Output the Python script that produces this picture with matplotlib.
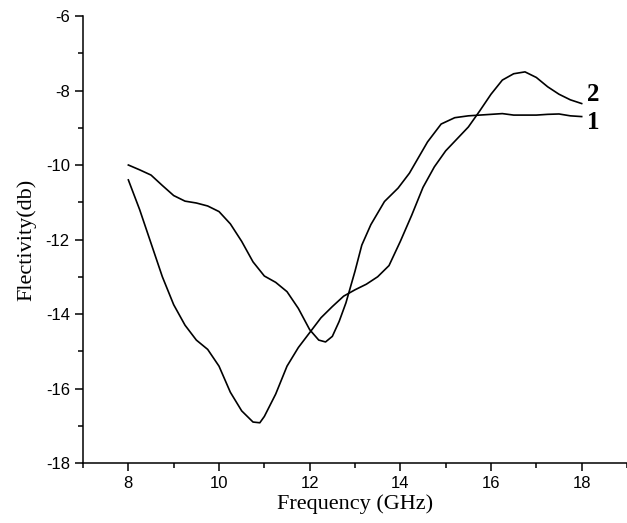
import matplotlib
matplotlib.use("Agg")
import matplotlib.pyplot as plt
from matplotlib.ticker import MultipleLocator

# curve 1 (shallow dip near 12.3 GHz, flat at the end)
freq1 = [8.0, 8.25, 8.5, 8.75, 9.0, 9.25, 9.5, 9.75, 10.0, 10.25, 10.5, 10.75,
         11.0, 11.25, 11.5, 11.75, 12.0, 12.2, 12.35, 12.5, 12.65, 12.8, 13.0,
         13.15, 13.35, 13.65, 13.95, 14.2, 14.4, 14.6, 14.9, 15.2, 15.5, 15.75,
         16.0, 16.25, 16.5, 16.75, 17.0, 17.25, 17.5, 17.75, 18.0]
refl1 = [-10.0, -10.13, -10.27, -10.55, -10.82, -10.97, -11.02, -11.1, -11.25,
         -11.58, -12.05, -12.6, -12.98, -13.15, -13.4, -13.85, -14.42, -14.7,
         -14.75, -14.6, -14.2, -13.7, -12.85, -12.15, -11.6, -10.98, -10.62,
         -10.22, -9.8, -9.38, -8.9, -8.73, -8.68, -8.66, -8.64, -8.62, -8.66,
         -8.66, -8.66, -8.64, -8.63, -8.68, -8.7]

# curve 2 (deep dip near 10.8 GHz, peak near 16.7 GHz)
freq2 = [8.0, 8.25, 8.5, 8.75, 9.0, 9.25, 9.5, 9.75, 10.0, 10.25, 10.5, 10.75,
         10.9, 11.0, 11.25, 11.5, 11.75, 12.0, 12.25, 12.5, 12.75, 13.0, 13.25,
         13.5, 13.75, 14.0, 14.25, 14.5, 14.75, 15.0, 15.25, 15.5, 15.75, 16.0,
         16.25, 16.5, 16.75, 17.0, 17.25, 17.5, 17.75, 18.0]
refl2 = [-10.4, -11.2, -12.1, -13.0, -13.75, -14.3, -14.7, -14.95, -15.4,
         -16.1, -16.6, -16.9, -16.92, -16.75, -16.15, -15.4, -14.9, -14.5,
         -14.1, -13.8, -13.52, -13.35, -13.2, -13.0, -12.7, -12.05, -11.35,
         -10.6, -10.05, -9.62, -9.3, -8.98, -8.55, -8.1, -7.72, -7.55, -7.5,
         -7.65, -7.9, -8.1, -8.25, -8.35]

xticks = [8, 10, 12, 14, 16, 18]
yticks = [-18, -16, -14, -12, -10, -8, -6]

fig = plt.figure(figsize=(6.27, 5.23), dpi=100)
ax = fig.add_axes([0.1324, 0.1147, 0.8676, 0.8547])

ax.plot(freq1, refl1, color="black", lw=1.2)
ax.plot(freq2, refl2, color="black", lw=1.2)

ax.text(18.26, -8.12, "2", ha="center", va="center", fontsize=18,
        fontweight="bold", family="Liberation Serif")
ax.text(18.26, -8.87, "1", ha="center", va="center", fontsize=18,
        fontweight="bold", family="Liberation Serif")

ax.set_xlim(7, 19)
ax.set_ylim(-18, -6)
ax.set_xticks(xticks)
ax.set_yticks(yticks)
ax.set_yticklabels([str(v) for v in yticks])
ax.xaxis.set_minor_locator(MultipleLocator(1))
ax.yaxis.set_minor_locator(MultipleLocator(1))

for s in ["top", "right"]:
    ax.spines[s].set_visible(False)
for s in ["left", "bottom"]:
    ax.spines[s].set_linewidth(1.1)

ax.tick_params(which="major", direction="out", length=6, width=1.1,
               labelsize=12)
ax.tick_params(which="minor", direction="out", length=3.5, width=1.1)
for lab in ax.get_xticklabels() + ax.get_yticklabels():
    lab.set_family("Liberation Sans")

ax.set_xlabel("Frequency (GHz)", fontsize=16, family="Liberation Serif",
              labelpad=2)
ax.set_ylabel("Flectivity(db)", fontsize=16, family="Liberation Serif",
              labelpad=7)

fig.savefig("out.png", dpi=100)
